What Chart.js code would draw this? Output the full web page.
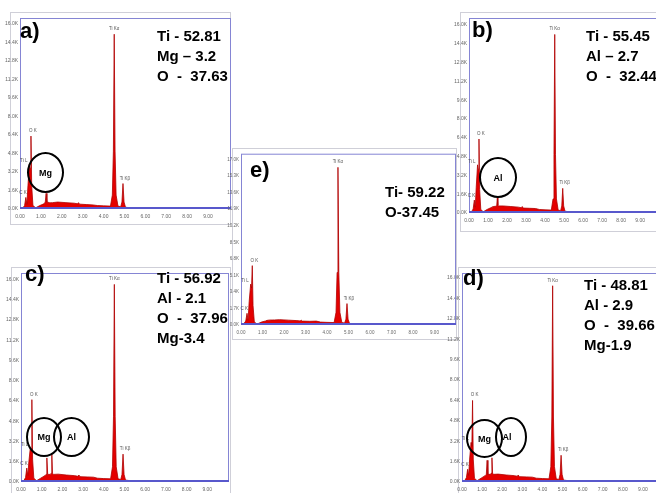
<!DOCTYPE html>
<html>
<head>
<meta charset="utf-8">
<script src="https://cdn.jsdelivr.net/npm/chart.js@4.4.0/dist/chart.umd.min.js"></script>
<style>
  body { margin: 0; background: #fff; overflow: hidden; font-family: 'Liberation Sans', Arial, sans-serif; }
  #fig { position: relative; width: 656px; height: 493px; overflow: hidden; background: #fff; }
  canvas { position: absolute; }
  .frame { position: absolute; border: 1px solid #cfcfd8; box-sizing: border-box; }
  .tag { position: absolute; font-weight: bold; font-size: 22px; line-height: 1; }
  .comp { position: absolute; font-weight: bold; font-size: 15px; line-height: 20px; white-space: pre; }
  .ring { position: absolute; border: 2px solid #000; border-radius: 50%; box-sizing: border-box;
          display: flex; align-items: center; justify-content: center; font-weight: bold; font-size: 9px; }
</style>
</head>
<body>
<div id="fig">
  <div class="frame" style="left:10px;top:12px;width:221px;height:213px"></div>
  <div class="frame" style="left:460px;top:12px;width:200px;height:220px"></div>
  <div class="frame" style="left:11px;top:267px;width:220px;height:240px"></div>
  <div class="frame" style="left:458px;top:267px;width:210px;height:240px"></div>
  <div class="frame" style="left:232px;top:148px;width:225px;height:192px"></div>

  <canvas id="specA" width="231" height="212" style="left:0;top:13px"></canvas>
  <canvas id="specB" width="211" height="213" style="left:450px;top:13px"></canvas>
  <canvas id="specC" width="229" height="225" style="left:0;top:268px"></canvas>
  <canvas id="specD" width="220" height="225" style="left:445px;top:268px"></canvas>
  <canvas id="specE" width="230" height="191" style="left:226px;top:149px"></canvas>

  <div class="tag" style="left:20px;top:20px">a)</div>
  <div class="comp" style="left:157px;top:26px">Ti - 52.81
Mg – 3.2
O  -  37.63</div>
  <div class="ring" style="left:27px;top:152px;width:37px;height:41px">Mg</div>

  <div class="tag" style="left:472px;top:19px">b)</div>
  <div class="comp" style="left:586px;top:26px">Ti - 55.45
Al – 2.7
O  -  32.44</div>
  <div class="ring" style="left:479px;top:157px;width:38px;height:41px">Al</div>

  <div class="tag" style="left:250px;top:159px">e)</div>
  <div class="comp" style="left:385px;top:182px">Ti- 59.22
O-37.45</div>

  <div class="tag" style="left:25px;top:263px">c)</div>
  <div class="comp" style="left:157px;top:268px">Ti - 56.92
Al - 2.1
O  -  37.96
Mg-3.4</div>
  <div class="ring" style="left:26px;top:417px;width:36px;height:40px">Mg</div>
  <div class="ring" style="left:53px;top:417px;width:37px;height:40px">Al</div>

  <div class="tag" style="left:463px;top:267px">d)</div>
  <div class="comp" style="left:584px;top:275px">Ti - 48.81
Al - 2.9
O  -  39.66
Mg-1.9</div>
  <div class="ring" style="left:466px;top:419px;width:37px;height:39px">Mg</div>
  <div class="ring" style="left:495px;top:417px;width:32px;height:40px;padding-right:8px">Al</div>
</div>

<script>
// energy grid (keV) shared by all five spectra
const energy = [0.00, 0.12, 0.22, 0.28, 0.33, 0.38, 0.45, 0.49, 0.525, 0.56,
                0.62, 0.75, 0.95, 1.15, 1.21, 1.25, 1.29, 1.42, 1.46, 1.49,
                1.52, 1.56, 1.80, 2.20, 2.60, 2.75, 2.80, 2.85, 3.20, 3.50,
                3.70, 4.00, 4.33, 4.42, 4.47, 4.51, 4.55, 4.60, 4.69, 4.82,
                4.88, 4.93, 4.98, 5.05, 5.40, 6.00, 7.00, 8.50, 10.10];

// counts, in thousands
const countsA = [0, 0.05, 0.3, 1.0, 0.4, 2.0, 3.9, 3.5, 6.3, 2.0,
                 0.3, 0.1, 0.3, 0.45, 0.6, 1.35, 0.6, 0.55, 0.55, 0.55,
                 0.55, 0.55, 0.6, 0.55, 0.5, 0.45, 0.55, 0.42, 0.38, 0.35,
                 0.3, 0.27, 0.25, 1.2, 5.0, 15.1, 5.0, 1.2, 0.25, 0.2,
                 0.6, 2.2, 0.6, 0.15, 0.08, 0.05, 0.04, 0.03, 0.02];
const countsB = [0, 0.05, 0.35, 1.1, 0.5, 2.2, 4.1, 3.7, 6.3, 2.0,
                 0.3, 0.1, 0.3, 0.45, 0.5, 0.55, 0.55, 0.58, 0.65, 1.3,
                 0.65, 0.6, 0.6, 0.55, 0.5, 0.45, 0.55, 0.42, 0.4, 0.38,
                 0.3, 0.27, 0.25, 1.2, 5.0, 15.2, 5.0, 1.2, 0.25, 0.2,
                 0.6, 2.1, 0.6, 0.15, 0.08, 0.05, 0.04, 0.03, 0.02];
const countsC = [0, 0.05, 0.35, 1.1, 0.5, 1.6, 2.7, 2.5, 6.5, 1.8,
                 0.3, 0.1, 0.3, 0.5, 0.6, 1.9, 0.6, 0.6, 0.7, 2.2,
                 0.7, 0.6, 0.62, 0.55, 0.5, 0.45, 0.55, 0.42, 0.4, 0.38,
                 0.3, 0.27, 0.25, 1.2, 5.2, 15.6, 5.2, 1.2, 0.25, 0.2,
                 0.6, 2.2, 0.6, 0.15, 0.08, 0.05, 0.04, 0.03, 0.02];
const countsD = [0, 0.05, 0.35, 1.0, 0.5, 1.8, 3.1, 2.8, 6.4, 1.8,
                 0.3, 0.1, 0.3, 0.5, 0.6, 1.7, 0.6, 0.6, 0.7, 1.9,
                 0.7, 0.6, 0.62, 0.55, 0.5, 0.45, 0.55, 0.42, 0.4, 0.38,
                 0.3, 0.27, 0.25, 1.2, 5.1, 15.4, 5.1, 1.2, 0.25, 0.2,
                 0.6, 2.1, 0.6, 0.15, 0.08, 0.05, 0.04, 0.03, 0.02];
const countsE = [0, 0.1, 0.4, 1.2, 0.5, 2.4, 4.2, 3.8, 6.1, 2.0,
                 0.3, 0.1, 0.3, 0.42, 0.48, 0.5, 0.5, 0.52, 0.52, 0.52,
                 0.52, 0.52, 0.55, 0.5, 0.45, 0.42, 0.5, 0.4, 0.38, 0.4,
                 0.3, 0.27, 0.25, 1.3, 5.4, 16.2, 5.4, 1.3, 0.25, 0.2,
                 0.6, 2.2, 0.6, 0.15, 0.08, 0.05, 0.04, 0.03, 0.02];

// tick labels
const xTicks = [0, 1, 2, 3, 4, 5, 6, 7, 8, 9];
const yTicks16 = [0, 1.6, 3.2, 4.8, 6.4, 8.0, 9.6, 11.2, 12.8, 14.4, 16.0];
const yTicks17 = [0, 1.7, 3.4, 5.1, 6.8, 8.5, 10.2, 11.9, 13.6, 15.3, 17.0];

// peak tags
const peakNames = ['C K', 'Ti L', 'O K', 'Ti Kα', 'Ti Kβ'];
const peakIndex = [3, 6, 8, 35, 41];

const frameBox = {
  id: 'frameBox',
  afterDraw(chart) {
    const a = chart.chartArea, c = chart.ctx;
    c.save();
    c.strokeStyle = '#8585d4';
    c.lineWidth = 1;
    c.strokeRect(a.left + 0.5, a.top + 0.5, a.right - a.left - 1, a.bottom - a.top - 1);
    c.strokeStyle = '#5858cc';
    c.lineWidth = 2;
    c.beginPath();
    c.moveTo(a.left, a.bottom - 1);
    c.lineTo(a.right, a.bottom - 1);
    c.stroke();

    // peak tags
    const xs = chart.scales.x, ys = chart.scales.y;
    const counts = chart.data.datasets[0].data;
    c.font = '4.5px "Liberation Sans", Arial';
    c.fillStyle = '#555';
    c.textBaseline = 'bottom';
    peakNames.forEach((name, i) => {
      const p = counts[peakIndex[i]];
      let px = xs.getPixelForValue(p.x), py = ys.getPixelForValue(p.y);
      c.textAlign = 'center';
      if (name === 'Ti L') { c.textAlign = 'right'; px -= 2; py -= 1; }
      if (name === 'C K') { c.textAlign = 'right'; px += 1; py -= 2; }
      if (name === 'O K') { px += 2; py -= 3; }
      if (name === 'Ti Kα') { py -= 3; }
      if (name === 'Ti Kβ') { px += 2; py -= 3; }
      c.fillText(name, px, py);
    });
    c.restore();
  }
};

function spectrum(id, counts, yTicks, xMax, yMax, yW, xH, fs) {
  new Chart(document.getElementById(id), {
    type: 'line',
    data: {
      datasets: [{
        data: energy.map((e, i) => ({ x: e, y: counts[i] })),
        fill: 'origin',
        backgroundColor: '#e40000',
        borderColor: '#b00000',
        borderWidth: 0.8,
        pointRadius: 0,
        tension: 0
      }]
    },
    options: {
      responsive: false,
      animation: false,
      devicePixelRatio: 1,
      layout: { padding: 0 },
      plugins: { legend: { display: false }, tooltip: { enabled: false } },
      scales: {
        x: {
          type: 'linear', min: 0, max: xMax,
          grid: { display: false, drawTicks: false },
          border: { display: false },
          afterBuildTicks: s => { s.ticks = xTicks.map(v => ({ value: v })); },
          afterFit: s => { s.height = xH; },
          ticks: { font: { size: fs }, color: '#666', padding: 5, maxRotation: 0, autoSkip: false,
                   callback: v => v.toFixed(2) }
        },
        y: {
          min: 0, max: yMax,
          grid: { display: false, drawTicks: false },
          border: { display: false },
          afterBuildTicks: s => { s.ticks = yTicks.map(v => ({ value: v })); },
          afterFit: s => { s.width = yW; },
          ticks: { font: { size: fs }, color: '#666', padding: 2, autoSkip: false,
                   callback: v => v.toFixed(1) + 'K' }
        }
      }
    },
    plugins: [frameBox]
  });
}

spectrum('specA', countsA, yTicks16, 10.1, 16.5, 20, 16, 5);
spectrum('specB', countsB, yTicks16, 10.1, 16.6, 19, 13, 5);
spectrum('specC', countsC, yTicks16, 10.05, 16.5, 21, 11, 5);
spectrum('specD', countsD, yTicks16, 10.1, 16.4, 17, 11, 5);
spectrum('specE', countsE, yTicks17, 10.0, 17.6, 15, 15, 4.5);
</script>
</body>
</html>
